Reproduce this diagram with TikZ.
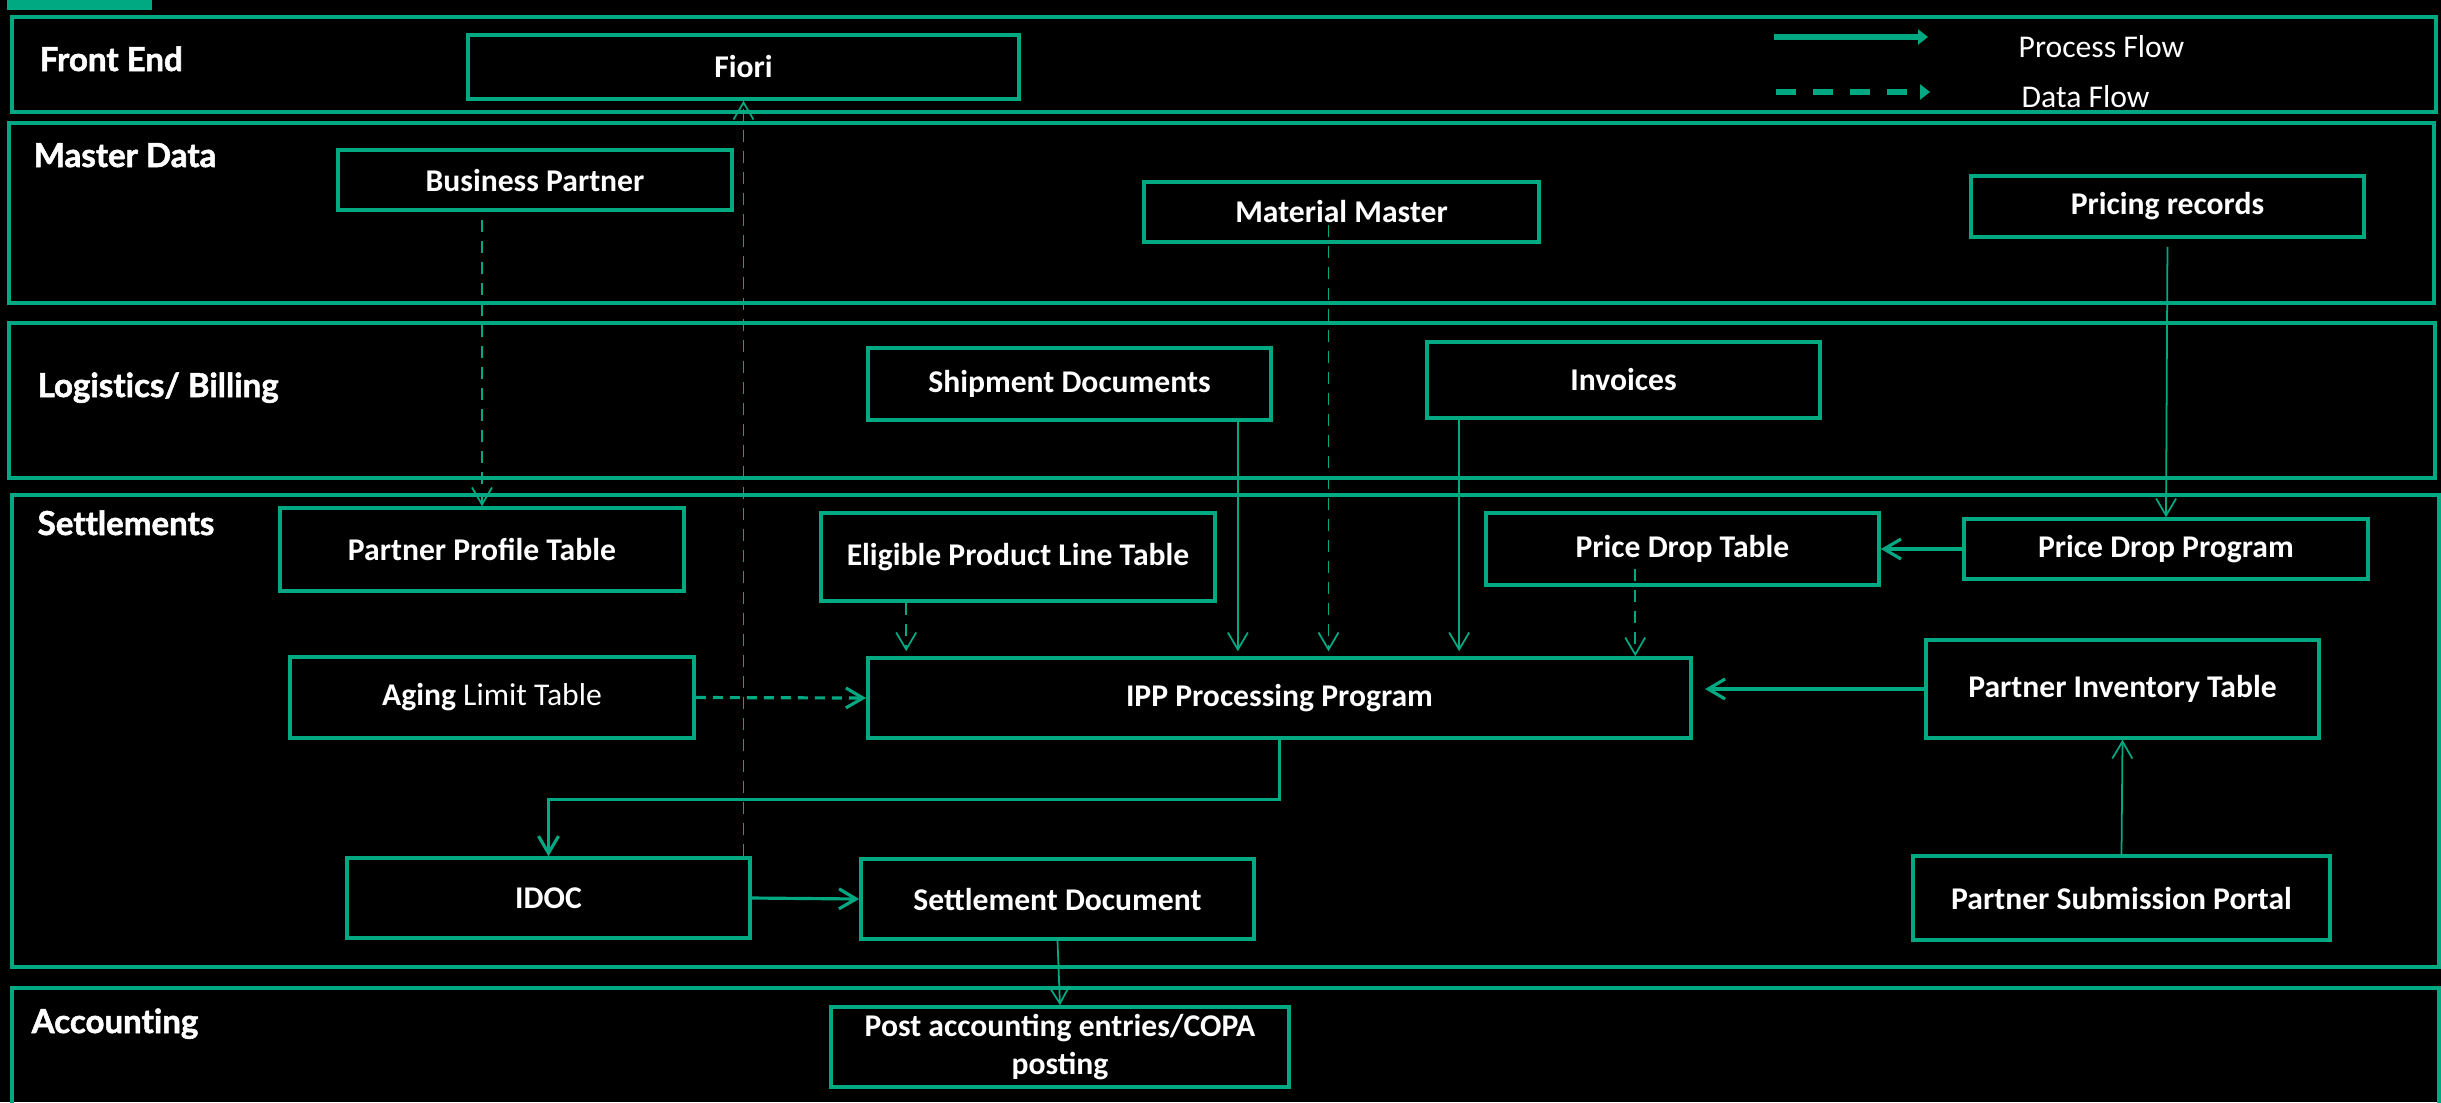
\documentclass[tikz,border=0pt]{standalone}
\usepackage{fontspec}
\setmainfont{Carlito}
\newfontfamily\lanefont{Lato}[Ligatures=NoCommon, BoldFeatures={FakeBold=1.6}]
\usetikzlibrary{shapes,arrows,arrows.meta}
\definecolor{hpegreen}{RGB}{1,169,130}
\tikzstyle{block} = [draw=hpegreen, line width=1pt, text=white, font=\fontsize{9}{10.8}\selectfont\bfseries, align=center, inner sep=0pt]
\tikzstyle{lane} = [draw=hpegreen, line width=1.1pt]
\tikzstyle{lanetitle} = [text=white, font=\lanefont\fontsize{9.4}{11}\selectfont\bfseries, anchor=base west, inner sep=0pt]
\tikzstyle{keytext} = [text=white, font=\fontsize{9}{10.8}\selectfont, anchor=west, inner sep=0pt]
\tikzstyle{procline} = [draw=hpegreen, line width=0.5pt, -{Straight Barb[length=0.17cm,width=0.2cm]}]
\tikzstyle{thickline} = [procline, line width=0.9pt]
\tikzstyle{dataline} = [procline, dash pattern=on 0.12cm off 0.09cm]
\tikzstyle{keyline} = [draw=hpegreen, line width=1.8pt, -{Triangle[length=0.1cm,width=0.15cm]}]

\begin{document}
\begin{tikzpicture}[x=0.01cm, y=-0.01cm]
		\useasboundingbox (0,0) rectangle (2441,1102);
		\fill [black] (0,0) rectangle (2441,1102);
		\fill [hpegreen] (7,0) rectangle (152,10);
		
		\draw [lane] (12,17) rectangle (2436,112);
		\draw [lane] (9,123) rectangle (2434,303);
		\draw [lane] (9,323) rectangle (2435,478);
		\draw [lane] (12,495) rectangle (2439,967);
		\draw [lane] (12,988) rectangle (2439,1120);
		\node [lanetitle] (frontend) at (39,71) {Front End};
		\node [lanetitle] (masterdata) at (33,167) {Master Data};
		\node [lanetitle] (logistics) at (37,397) {Logistics/ Billing};
		\node [lanetitle] (settlements) at (37,535) {Settlements};
		\node [lanetitle] (accounting) at (31,1033) {Accounting};
		
		\coordinate (pfa) at (1774,37);
		\coordinate (pfb) at (1928,37);
		\coordinate (dfa) at (1776,92);
		\coordinate (dfb) at (1930,92);
		\draw [keyline] (pfa) -- (pfb);
		\draw [keyline, dash pattern=on 0.2cm off 0.17cm] (dfa) -- (dfb);
		\node [keytext] (pflabel) at (2018,47) {Process Flow};
		\node [keytext] (dflabel) at (2021,97) {Data Flow};
		
		\node [block, minimum width=5.51cm, minimum height=0.64cm] (fiori) at (743.5,67) {Fiori};
		\node [block, minimum width=3.94cm, minimum height=0.6cm] (bp) at (535,180) {Business Partner};
		\node [block, minimum width=3.95cm, minimum height=0.6cm] (mm) at (1341.5,212) {Material Master};
		\node [block, minimum width=3.93cm, minimum height=0.61cm] (pr) at (2167.5,206.5) {Pricing records};
		\node [block, minimum width=4.03cm, minimum height=0.72cm] (ship) at (1069.5,384) {Shipment Documents};
		\node [block, minimum width=3.93cm, minimum height=0.76cm] (inv) at (1623.5,380) {Invoices};
		\node [block, minimum width=4.04cm, minimum height=0.83cm] (ppt) at (482,549.5) {Partner Profile Table};
		\node [block, minimum width=3.94cm, minimum height=0.88cm] (eplt) at (1018,557) {Eligible Product Line Table};
		\node [block, minimum width=3.93cm, minimum height=0.72cm] (pdt) at (1682.5,549) {Price Drop Table};
		\node [block, minimum width=4.04cm, minimum height=0.6cm] (pdp) at (2166,549) {Price Drop Program};
		\node [block, minimum width=4.04cm, minimum height=0.81cm] (alt) at (492,697.5) {Aging {\mdseries Limit Table}};
		\node [block, minimum width=8.23cm, minimum height=0.8cm] (ipp) at (1279.5,698) {IPP Processing Program};
		\node [block, minimum width=3.93cm, minimum height=0.98cm] (pit) at (2122.5,689) {Partner Inventory Table};
		\node [block, minimum width=4.03cm, minimum height=0.8cm] (idoc) at (548.5,898) {IDOC};
		\node [block, minimum width=3.93cm, minimum height=0.8cm] (sd) at (1057.5,899) {Settlement Document};
		\node [block, minimum width=4.17cm, minimum height=0.84cm] (psp) at (2121.5,898) {Partner Submission Portal};
		\node [block, minimum width=4.58cm, minimum height=0.8cm] (post) at (1060,1047) {Post accounting entries/COPA\\posting};
		
		\draw [dataline, shorten <=0.08cm] (ppt.north |- bp.south) -- (ppt.north);
		\draw [dataline] (fiori.south |- idoc.north) -- (fiori.south);
		\draw [dataline, shorten <=-0.19cm, shorten >=0.05cm] ([xshift=-0.13cm]mm.south) -- ([xshift=-0.13cm]mm.south |- ipp.north);
		\draw [procline, shorten >=0.05cm] ([xshift=-0.35cm]ship.south east) -- ([xshift=-0.35cm]ship.south east |- ipp.north);
		\draw [procline, shorten >=0.05cm] ([xshift=0.34cm]inv.south west) -- ([xshift=0.34cm]inv.south west |- ipp.north);
		\draw [dataline, shorten >=0.05cm] ([xshift=0.87cm]eplt.south west) -- ([xshift=0.87cm]eplt.south west |- ipp.north);
		\draw [dataline, shorten <=-0.18cm] ([xshift=1.51cm]pdt.south west) -- ([xshift=1.51cm]pdt.south west |- ipp.north);
		\draw [procline, shorten <=0.08cm] (pr.south) -- (pdp.north);
		\draw [thickline] (pdp.west) -- (pdt.east);
		\draw [thickline, shorten >=0.12cm] (pit.west) -- (ipp.east |- pit.west);
		\draw [procline] (psp.north) -- (pit.south);
		\draw [dataline, line width=0.9pt, dash pattern=on 0.1cm off 0.07cm] (alt.east) -- (ipp.west);
		\draw [thickline] (ipp.south) -- ++(0,60) -| (idoc.north);
		\draw [thickline] (idoc.east) -- (sd.west);
		\draw [procline] (sd.south) -- (post.north);
		
\end{tikzpicture}
\end{document}
